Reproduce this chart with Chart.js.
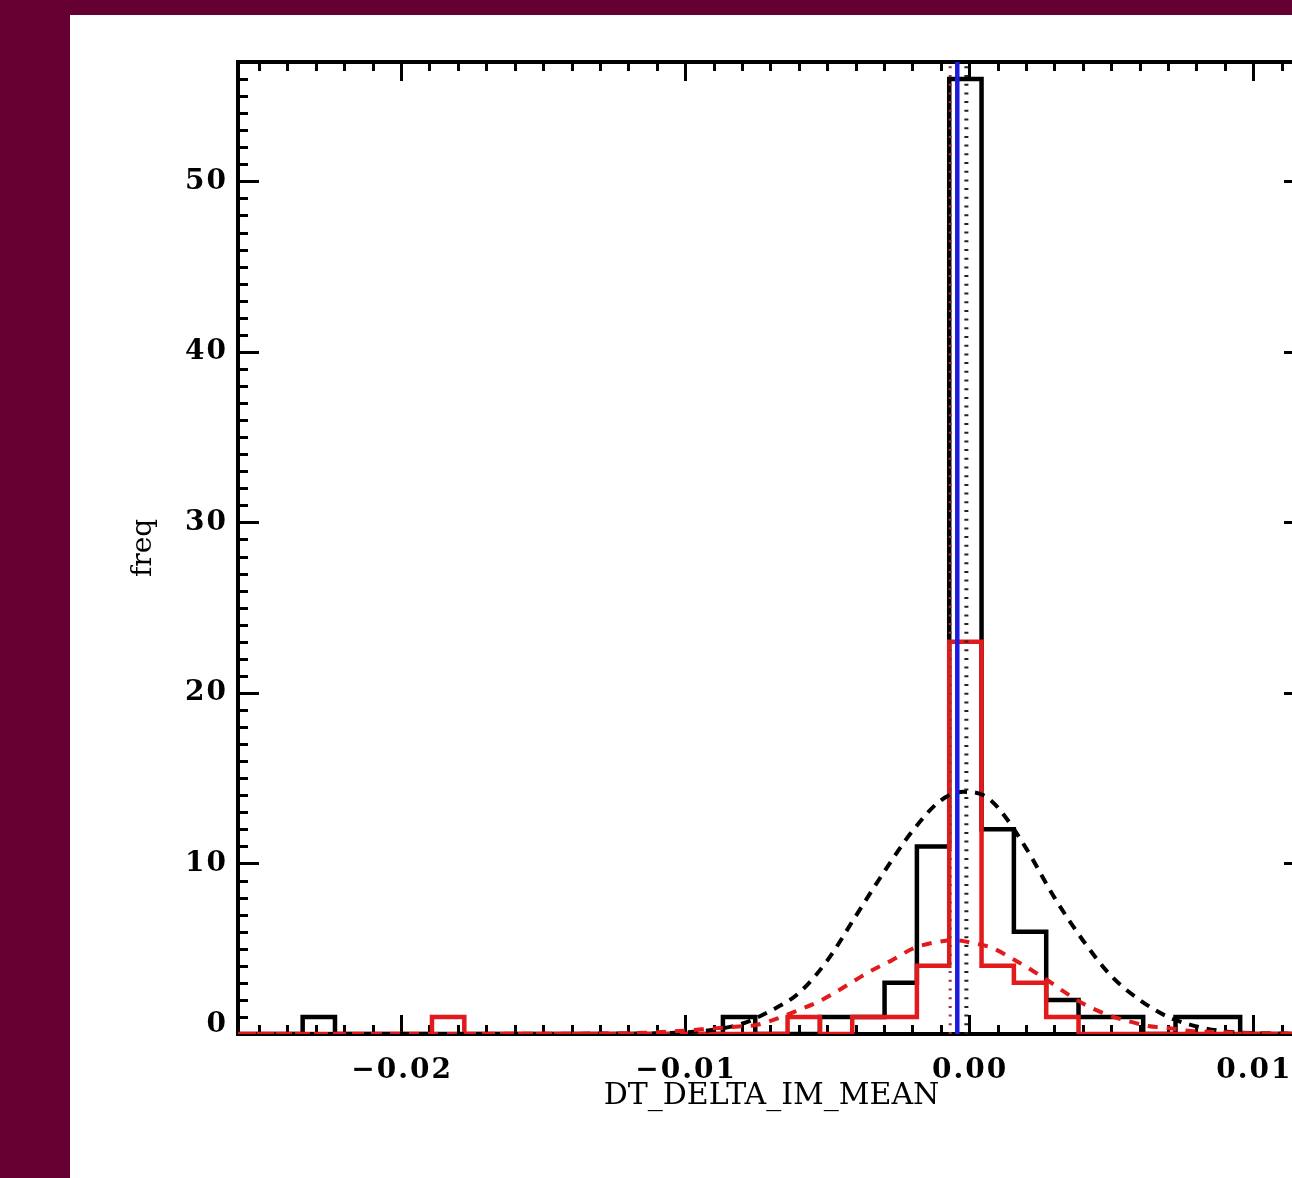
<!DOCTYPE html>
<html>
<head>
<meta charset="utf-8">
<script src="https://cdn.jsdelivr.net/npm/chart.js@4.4.0/dist/chart.umd.min.js"></script>
<style>
    html, body { margin: 0; padding: 0; background: #660033; overflow: hidden; }
    #panel { position: absolute; left: 70px; top: 15px; width: 1250px; height: 1163px; background: #fff; }
    canvas { display: block; }
</style>
</head>
<body>
<div id="panel"><canvas id="hist" width="1250" height="1163"></canvas></div>
<script>
// Histogram binning (both samples share the same bins)
const binStart = -0.02574;
const binWidth = 0.001138;
const allCounts = [0, 0, 1, 0, 0, 0, 0, 0, 0, 0, 0, 0, 0, 0, 0, 1, 0, 0, 1, 1, 3, 11, 56, 12, 6, 2, 1, 1, 0, 1, 1, 0, 0];
const selCounts = [0, 0, 0, 0, 0, 0, 1, 0, 0, 0, 0, 0, 0, 0, 0, 0, 0, 1, 0, 1, 1, 4, 23, 4, 3, 1, 0, 0, 0, 0, 0, 0, 0];

// Gaussian fits
const allFitX = [-0.02574, -0.012, -0.010, -0.009, -0.008, -0.007, -0.006, -0.005, -0.004, -0.003, -0.002, -0.001, -0.0002, 0.0005, 0.001, 0.002, 0.003, 0.004, 0.005, 0.006, 0.007, 0.008, 0.009, 0.010, 0.01182];
const allFitY = [0, 0.01, 0.1, 0.25, 0.6, 1.35, 2.4, 4.3, 6.9, 9.5, 11.9, 13.7, 14.2, 14.0, 13.3, 10.9, 8.0, 5.5, 3.4, 2.0, 1.0, 0.45, 0.15, 0.05, 0];
const selFitX = [-0.02574, -0.013, -0.011, -0.010, -0.009, -0.008, -0.0075, -0.0067, -0.006, -0.0053, -0.0047, -0.004, -0.0034, -0.0027, -0.002, -0.0013, -0.0005, 0.0001, 0.0008, 0.0016, 0.0023, 0.0029, 0.0034, 0.0041, 0.0049, 0.0056, 0.0063, 0.007, 0.0078, 0.0086, 0.010, 0.01182];
const selFitY = [0, 0.02, 0.1, 0.2, 0.33, 0.45, 0.53, 0.94, 1.41, 1.9, 2.46, 3.17, 3.76, 4.34, 5.0, 5.34, 5.5, 5.35, 5.05, 4.34, 3.64, 2.99, 2.41, 1.70, 1.11, 0.76, 0.47, 0.35, 0.18, 0.12, 0.05, 0.01];

// Vertical markers
const blueLineX = -0.00042;
const allMeanX = -0.0001;
const selMeanX = -0.00067;

// Axes
const xRange = [-0.02574, 0.01182];
const yRange = [0, 57];
const xTicks = [-0.02, -0.01, 0.00, 0.01];
const xTickLabels = ['\u22120.02', '\u22120.01', '0.00', '0.01'];
const yTicks = [0, 10, 20, 30, 40, 50];
const yTickLabels = ['0', '10', '20', '30', '40', '50'];
const xMinorStep = 0.001;
const yMinorStep = 1;
const xTitle = 'DT_DELTA_IM_MEAN';
const yTitle = 'freq';

const RED = '#e31a1c';
const FONT = '"DejaVu Serif", "Liberation Serif", serif';

// Build a stepped outline from the bin counts
function stepOutline(counts) {
    const pts = [];
    counts.forEach((c, i) => {
        const left = binStart + i * binWidth;
        pts.push({ x: left, y: c }, { x: left + binWidth, y: c });
    });
    return pts;
}

function zip(xs, ys) {
    return xs.map((x, i) => ({ x: x, y: ys[i] }));
}

function vline(x) {
    return [{ x: x, y: yRange[0] }, { x: x, y: yRange[1] }];
}

// Draw the IDL-style box, inward ticks and labels
const idlAxes = {
    id: 'idlAxes',
    beforeDatasetsDraw(chart) {
        const { ctx, chartArea: a, scales: { x, y } } = chart;
        ctx.save();
        ctx.strokeStyle = '#000';
        ctx.lineWidth = 3;
        ctx.beginPath();
        const n0 = Math.ceil(xRange[0] / xMinorStep - 1e-6);
        const n1 = Math.floor(xRange[1] / xMinorStep + 1e-6);
        for (let n = n0; n <= n1; n++) {
            const v = n * xMinorStep;
            const px = Math.round(x.getPixelForValue(v)) + 0.5;
            const major = xTicks.some(t => Math.abs(t - v) < 1e-9);
            const len = major ? 19 : 9;
            ctx.moveTo(px, a.bottom); ctx.lineTo(px, a.bottom - len);
            ctx.moveTo(px, a.top); ctx.lineTo(px, a.top + len);
        }
        for (let v = yRange[0]; v <= yRange[1]; v += yMinorStep) {
            const py = Math.round(y.getPixelForValue(v)) + 0.5;
            const major = yTicks.includes(v);
            const len = major ? 21 : 10;
            ctx.moveTo(a.left, py); ctx.lineTo(a.left + len, py);
            ctx.moveTo(a.right, py); ctx.lineTo(a.right - len, py);
        }
        ctx.stroke();
        ctx.lineWidth = 4;
        ctx.strokeRect(a.left, a.top, a.right - a.left, a.bottom - a.top);
        ctx.restore();
    },
    afterDraw(chart) {
        const { ctx, chartArea: a, scales: { x, y } } = chart;
        ctx.save();
        ctx.fillStyle = '#000';
        ctx.font = 'bold 28px ' + FONT;
        ctx.letterSpacing = '2px';
        ctx.textBaseline = 'middle';
        ctx.textAlign = 'right';
        yTicks.forEach((v, i) => {
            const py = Math.min(y.getPixelForValue(v), a.bottom - 9);
            ctx.fillText(yTickLabels[i], a.left - 10, py);
        });
        ctx.textAlign = 'center';
        xTicks.forEach((v, i) => {
            ctx.fillText(xTickLabels[i], x.getPixelForValue(v) + 1, a.bottom + 37);
        });
        ctx.letterSpacing = '0px';
        ctx.font = '30px ' + FONT;
        ctx.fillText(xTitle, (a.left + a.right) / 2, a.bottom + 62);
        ctx.translate(a.left - 94, (a.top + a.bottom) / 2);
        ctx.rotate(-Math.PI / 2);
        ctx.font = '28px ' + FONT;
        ctx.fillText(yTitle, 0, 0);
        ctx.restore();
    }
};

const lineDefaults = { pointRadius: 0, fill: false, tension: 0 };

new Chart(document.getElementById('hist'), {
    type: 'line',
    data: {
        datasets: [
            { ...lineDefaults, data: vline(blueLineX), borderColor: '#1c1ce0', borderWidth: 4.5, order: 0 },
            { ...lineDefaults, data: vline(allMeanX), borderColor: '#222', borderWidth: 4, borderDash: [2, 6.7], order: 1 },
            { ...lineDefaults, data: vline(selMeanX), borderColor: '#a03030', borderWidth: 3, borderDash: [2, 6.7], order: 2 },
            { ...lineDefaults, data: zip(selFitX, selFitY), borderColor: RED, borderWidth: 4, borderDash: [10, 9], cubicInterpolationMode: 'monotone', order: 3 },
            { ...lineDefaults, data: zip(allFitX, allFitY), borderColor: '#000', borderWidth: 4, borderDash: [10, 8], cubicInterpolationMode: 'monotone', order: 4 },
            { ...lineDefaults, data: stepOutline(selCounts), borderColor: RED, borderWidth: 4.5, order: 5 },
            { ...lineDefaults, data: stepOutline(allCounts), borderColor: '#000', borderWidth: 4.5, order: 6 }
        ]
    },
    options: {
        responsive: false,
        animation: false,
        devicePixelRatio: 1,
        layout: { padding: { left: 168, top: 47, right: 15, bottom: 144 } },
        plugins: { legend: { display: false }, tooltip: { enabled: false } },
        scales: {
            x: { type: 'linear', min: xRange[0], max: xRange[1], display: false },
            y: { type: 'linear', min: yRange[0], max: yRange[1], display: false }
        }
    },
    plugins: [idlAxes]
});
</script>
</body>
</html>
